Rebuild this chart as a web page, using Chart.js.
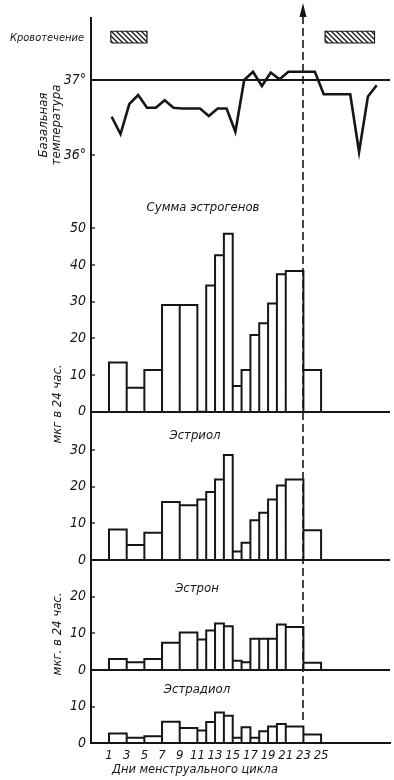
<!DOCTYPE html>
<html>
<head>
<meta charset="utf-8">
<title>Базальная температура и эстрогены</title>
<style>
  html, body { margin: 0; padding: 0; background: #fff; }
  canvas { display: block; }
</style>
</head>
<body>
<canvas id="cycle" width="394" height="780"></canvas>
<script src="https://cdn.jsdelivr.net/npm/chart.js@4.4.1/dist/chart.umd.min.js"></script>
<script>
// basal temperature, one reading per day of the cycle
const tempDays = [1, 2, 3, 4, 5, 6, 7, 8, 9, 10, 11, 12, 13, 14, 15, 16, 17, 18, 19, 20, 21, 22, 23, 24, 25, 26, 27, 28, 29, 30, 31];
const basalTemp = [36.51, 36.28, 36.68, 36.80, 36.63, 36.63, 36.73, 36.63, 36.62, 36.62, 36.62, 36.52, 36.62, 36.62, 36.31, 37.00,
  37.11, 36.92, 37.10, 37.01, 37.11, 37.11, 37.11, 37.11, 36.81, 36.81, 36.81, 36.81, 36.04, 36.78, 36.93];

// bleeding (days)
const bleedFrom = [1.25, 25.5];
const bleedTo = [5.25, 31];

// urine collections: day boundaries, one value per interval (mcg / 24 h)
const sampleEdges = [1, 3, 5, 7, 9, 11, 12, 13, 14, 15, 16, 17, 18, 19, 20, 21, 23, 25];
const totalEstrogens = [13.4, 6.5, 11.4, 29.1, 29.1, null, 34.4, 42.7, 48.5, 7.0, 11.4, 20.9, 24.1, 29.5, 37.5, 38.4, 11.4];
const estriol = [8.3, 4.1, 7.4, 15.8, 14.9, 16.5, 18.5, 21.9, 28.6, 2.3, 4.7, 10.8, 12.9, 16.5, 20.3, 21.9, 8.1];
const estrone = [3.0, 2.1, 3.0, 7.4, 10.2, 8.3, 10.8, 12.7, 11.9, 2.5, 2.1, 8.5, 8.5, 8.5, 12.4, 11.7, 2.0];
const estradiol = [2.7, 1.5, 1.9, 5.9, 4.2, 3.5, 5.8, 8.4, 7.5, 1.5, 4.4, 1.5, 3.3, 4.6, 5.3, 4.6, 2.4];

const dayTicks = [1, 3, 5, 7, 9, 11, 13, 15, 17, 19, 21, 23, 25];
const tempTicks = [36, 37];
const totalTicks = [0, 10, 20, 30, 40, 50];
const estriolTicks = [0, 10, 20, 30];
const estroneTicks = [0, 10, 20];
const estradiolTicks = [0, 10];
const ovulationDay = 23;

const INK = '#161616';
const FONT = "'Liberation Sans Narrow', 'DejaVu Sans Condensed', 'Liberation Sans', sans-serif";
const font = size => ({ family: FONT, size, style: 'italic' });

// temp axis units for the bleeding row
const bleedLo = 37.5, bleedHi = 37.645;

function hatch() {
  const c = document.createElement('canvas');
  c.width = 5; c.height = 5;
  const g = c.getContext('2d');
  g.fillStyle = '#fff';
  g.fillRect(0, 0, 5, 5);
  g.strokeStyle = INK;
  g.lineWidth = 1.3;
  g.beginPath();
  g.moveTo(-1, -1); g.lineTo(6, 6);
  g.moveTo(-1, 4); g.lineTo(1, 6);
  g.moveTo(4, -1); g.lineTo(6, 1);
  g.stroke();
  return g.createPattern(c, 'repeat');
}

// outline of adjacent bars, interval i spans sampleEdges[i]..sampleEdges[i+1]
function outline(values) {
  const pts = [];
  values.forEach((v, i) => {
    if (v == null) return;
    const x0 = sampleEdges[i], x1 = sampleEdges[i + 1];
    pts.push({ x: x0, y: 0 }, { x: x0, y: v }, { x: x1, y: v }, { x: x1, y: 0 });
  });
  return pts;
}

const barLine = { borderColor: INK, borderWidth: 2, pointRadius: 0, tension: 0, fill: false, borderJoinStyle: 'miter' };

function panelAxis(min, max, ticks, px, base, fmt) {
  return {
    type: 'linear',
    position: 'left',
    stack: 'cycle',
    stackWeight: px,
    min, max,
    afterBuildTicks: axis => { axis.ticks = ticks.map(v => ({ value: v })); },
    afterFit: axis => { axis.width = 91; },
    border: { color: INK, width: 2 },
    grid: {
      color: ctx => (ctx.tick && ctx.tick.value === base ? INK : 'rgba(0,0,0,0)'),
      lineWidth: 2,
      tickColor: INK,
      tickWidth: 1.3,
      tickLength: -4
    },
    ticks: { color: INK, font: font(14), padding: 9, callback: fmt || (v => v) }
  };
}

const labels = {
  id: 'labels',
  afterDraw(chart) {
    const { ctx, scales } = chart;
    ctx.save();
    ctx.fillStyle = INK;
    ctx.textBaseline = 'middle';

    const text = (s, x, y, size, align, rot) => {
      ctx.save();
      ctx.translate(x, y);
      if (rot) ctx.rotate(-Math.PI / 2);
      ctx.font = `italic ${size}px ${FONT}`;
      ctx.textAlign = align;
      ctx.fillText(s, 0, 0);
      ctx.restore();
    };
    text('Кровотечение', 10, 38, 11, 'left');
    text('Сумма эстрогенов', 203, 208, 13, 'center');
    text('Эстриол', 195, 436, 13, 'center');
    text('Эстрон', 197, 589, 13, 'center');
    text('Эстрадиол', 197, 690, 13, 'center');
    text('Базальная', 44, 125, 13, 'center', true);
    text('температура', 57, 125, 13, 'center', true);
    text('мкг в 24 час.', 58, 404, 13, 'center', true);
    text('мкг. в 24 час.', 58, 634, 13, 'center', true);
    text('Дни менструального цикла', 112, 770, 12.7, 'left');

    // ovulation marker
    const x = Math.round(scales.x.getPixelForValue(ovulationDay));
    ctx.strokeStyle = INK;
    ctx.lineWidth = 1.6;
    ctx.setLineDash([8, 4]);
    ctx.beginPath();
    ctx.moveTo(x, 16);
    ctx.lineTo(x, scales.yEstradiol.getPixelForValue(6));
    ctx.stroke();
    ctx.setLineDash([]);
    ctx.beginPath();
    ctx.moveTo(x, 3);
    ctx.lineTo(x - 3.5, 17);
    ctx.lineTo(x + 3.5, 17);
    ctx.closePath();
    ctx.fill();
    ctx.restore();
  }
};

const pattern = hatch();

// hatched bleeding boxes: one filled strip and one closed outline each
const bleedDatasets = [];
bleedFrom.forEach((a, i) => {
  const b = bleedTo[i];
  bleedDatasets.push({
    data: [{ x: a, y: bleedHi }, { x: b, y: bleedHi }],
    yAxisID: 'yTemp',
    borderWidth: 0, pointRadius: 0, tension: 0,
    fill: { value: bleedLo },
    backgroundColor: pattern
  }, {
    data: [{ x: a, y: bleedLo }, { x: a, y: bleedHi }, { x: b, y: bleedHi }, { x: b, y: bleedLo }, { x: a, y: bleedLo }],
    yAxisID: 'yTemp',
    borderColor: INK, borderWidth: 2, pointRadius: 0, tension: 0, fill: false,
    borderJoinStyle: 'miter'
  });
});

new Chart(document.getElementById('cycle'), {
  type: 'line',
  data: {
    datasets: [
      { data: outline(totalEstrogens), yAxisID: 'yTotal', ...barLine },
      { data: outline(estriol), yAxisID: 'yEstriol', ...barLine },
      { data: outline(estrone), yAxisID: 'yEstrone', ...barLine },
      { data: outline(estradiol), yAxisID: 'yEstradiol', ...barLine },
      {
        data: tempDays.map((d, i) => ({ x: d + 0.3, y: basalTemp[i] })),
        yAxisID: 'yTemp',
        borderColor: INK, borderWidth: 2.6, pointRadius: 0, tension: 0, fill: false
      },
      ...bleedDatasets
    ]
  },
  options: {
    responsive: false,
    animation: false,
    devicePixelRatio: 1,
    layout: { padding: { top: 18, right: 4, left: 0, bottom: 0 } },
    plugins: { legend: { display: false }, tooltip: { enabled: false } },
    scales: {
      x: {
        type: 'linear',
        min: -1.04, max: 32.8,
        afterBuildTicks: axis => { axis.ticks = dayTicks.map(v => ({ value: v })); },
        afterFit: axis => { axis.height = 36.7; },
        border: { color: INK, width: 2 },
        grid: { drawOnChartArea: false, drawTicks: false },
        ticks: { color: INK, font: font(13), padding: 5, maxRotation: 0, autoSkip: false }
      },
      yEstradiol: panelAxis(0, 20, estradiolTicks, 73.3, 0),
      yEstrone: panelAxis(0, 30, estroneTicks, 110, 0),
      yEstriol: panelAxis(0, 40.4, estriolTicks, 148.3, 0),
      yTotal: panelAxis(0, 60, totalTicks, 220, 0),
      yTemp: panelAxis(35.511, 37.827, tempTicks, 173.7, 37, v => v + '°')
    }
  },
  plugins: [labels]
});
</script>
</body>
</html>
